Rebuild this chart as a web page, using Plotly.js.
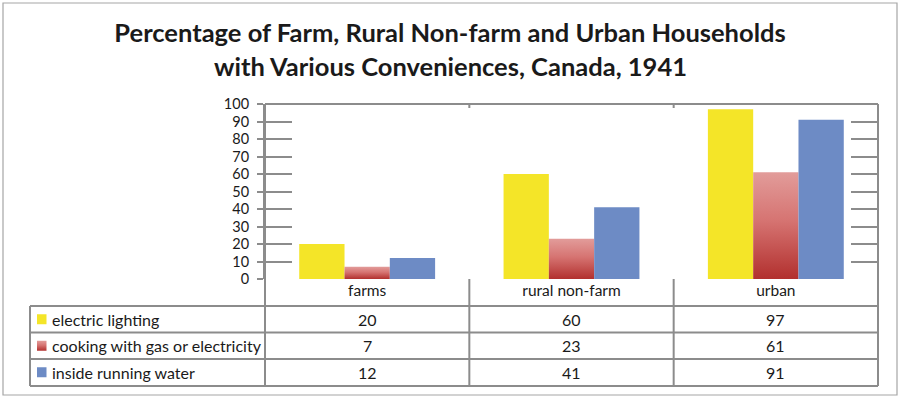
<!DOCTYPE html>
<html><head><meta charset="utf-8">
<script src="https://cdn.plot.ly/plotly-3.0.1.min.js"></script>
<style>html,body{margin:0;padding:0;background:#fff}#chart{width:900px;height:399px}</style>
</head><body><div id="chart"></div>
<script>
const categories = ['farms', 'rural non-farm', 'urban'];
const seriesNames = ['electric lighting', 'cooking with gas or electricity', 'inside running water'];
const electric = [20, 60, 97];
const cooking = [7, 23, 61];
const water = [12, 41, 91];
const yTicks = [0, 10, 20, 30, 40, 50, 60, 70, 80, 90, 100];
const titleLines = ['Percentage of Farm, Rural Non-farm and Urban Households', 'with Various Conveniences, Canada, 1941'];

const W = 900, H = 399;
const M = {l: 265, r: 22, t: 104, b: 120};
const PW = W - M.l - M.r, PH = H - M.t - M.b;
const py = p => (H - M.b - p) / PH;   // pixel y -> paper y
const pxx = p => (p - M.l) / PW;      // pixel x -> paper x

const colors = ['#f4e528', '#cf5a58', '#6d8bc5'];
const font = 'Lato, "Open Sans", sans-serif';
const gray = '#8c8c8c';
const txt = '#1a1a1a';

const series = [electric, cooking, water];
const traces = series.map((v, i) => ({
  type: 'bar', x: categories, y: v, name: seriesNames[i],
  marker: {color: colors[i], line: {width: 0}}, hoverinfo: 'none'
}));
traces.push({type: 'scatter', x: categories, y: electric, yaxis: 'y2', mode: 'none', hoverinfo: 'none', showlegend: false});

const rowTops = [306, 332.5, 359];
const rowH = 26.5;
const tableBottom = 386;
const shapes = [];
const annotations = [];
shapes.push({type: 'rect', xref: 'paper', yref: 'paper', x0: pxx(3), x1: pxx(897), y0: py(3), y1: py(395),
  line: {color: '#a6a6a6', width: 1.2}, fillcolor: 'rgba(0,0,0,0)', layer: 'below'});
shapes.push({type: 'line', xref: 'paper', yref: 'paper', x0: 0, x1: 1, y0: 1, y1: 1, line: {color: gray, width: 2}});
[0, 1].forEach(x => shapes.push({type: 'line', xref: 'paper', yref: 'paper', x0: x, x1: x, y0: 1, y1: py(tableBottom), line: {color: gray, width: 2}}));
[0.5, 1.5].forEach(x => {
  shapes.push({type: 'line', xref: 'x', yref: 'paper', x0: x, x1: x, y0: 0, y1: py(tableBottom), line: {color: gray, width: 2}});
  shapes.push({type: 'line', xref: 'x', yref: 'paper', x0: x, x1: x, y0: 1, y1: py(108), line: {color: gray, width: 2}});
});
rowTops.concat([tableBottom]).forEach(p => shapes.push({type: 'line', xref: 'paper', yref: 'paper', x0: pxx(30), x1: 1, y0: py(p), y1: py(p), line: {color: gray, width: 2}}));
shapes.push({type: 'line', xref: 'paper', yref: 'paper', x0: pxx(30), x1: pxx(30), y0: py(306), y1: py(tableBottom), line: {color: gray, width: 2}});

rowTops.forEach((top, i) => {
  const mid = top + rowH / 2;
  shapes.push({type: 'rect', xref: 'paper', yref: 'paper', x0: pxx(37), x1: pxx(46.5), y0: py(mid - 5), y1: py(mid + 5),
    line: {width: 0}, fillcolor: colors[i]});
  annotations.push({xref: 'paper', yref: 'paper', x: pxx(50), y: py(mid), xanchor: 'left', yanchor: 'middle',
    text: seriesNames[i], showarrow: false, font: {family: font, size: 16, color: txt}});
  categories.forEach((c, j) => annotations.push({xref: 'x', yref: 'paper', x: c, y: py(mid), xanchor: 'center', yanchor: 'middle',
    text: String(series[i][j]), showarrow: false, font: {family: font, size: 16, color: txt}}));
});
annotations.push({xref: 'paper', yref: 'paper', x: pxx(450), y: py(66), xanchor: 'center', yanchor: 'middle',
  text: '<b>' + titleLines[1] + '</b>', showarrow: false, font: {family: font, size: 25.5, color: txt}});

const layout = {
  width: W, height: H, margin: M, paper_bgcolor: '#fff', plot_bgcolor: '#fff',
  showlegend: false, barmode: 'group', bargap: 0.335, bargroupgap: 0,
  title: {text: '<b>' + titleLines[0] + '</b>', font: {family: font, size: 25.5, color: txt},
    x: 0.5, xanchor: 'center', xref: 'container', y: 1 - 33 / H, yref: 'container', yanchor: 'middle'},
  xaxis: {type: 'category', range: [-0.5, 2.5], showgrid: false, zeroline: false, showline: false,
    ticks: '', tickfont: {family: font, size: 15.5, color: txt}, fixedrange: true},
  yaxis: {range: [0, 100], tickvals: yTicks, ticktext: yTicks.map(String), showgrid: false, zeroline: false,
    showline: true, linecolor: gray, linewidth: 2, ticks: 'outside', ticklen: 6, tickwidth: 2, tickcolor: gray,
    ticklabelstandoff: 5, tickfont: {family: font, size: 14.5, color: txt}, fixedrange: true},
  yaxis2: {overlaying: 'y', range: [0, 100], tickvals: yTicks, showticklabels: false, showgrid: false, zeroline: false,
    showline: false, mirror: 'ticks', ticks: 'inside', ticklen: 27, tickwidth: 2, tickcolor: gray, fixedrange: true},
  shapes: shapes, annotations: annotations
};

Plotly.newPlot('chart', traces, layout, {staticPlot: true}).then(() => {
  const svg = document.querySelector('#chart .main-svg');
  const ns = 'http://www.w3.org/2000/svg';
  let defs = svg.querySelector('defs');
  if (!defs) { defs = document.createElementNS(ns, 'defs'); svg.insertBefore(defs, svg.firstChild); }
  const g = document.createElementNS(ns, 'linearGradient');
  g.setAttribute('id', 'redgrad'); g.setAttribute('x1', '0'); g.setAttribute('y1', '0'); g.setAttribute('x2', '0'); g.setAttribute('y2', '1');
  [['0', '#e29c9a'], ['0.45', '#d67472'], ['1', '#b2302e']].forEach(([o, c]) => {
    const s = document.createElementNS(ns, 'stop'); s.setAttribute('offset', o); s.setAttribute('stop-color', c); g.appendChild(s);
  });
  defs.appendChild(g);
  const tr = document.querySelectorAll('#chart .barlayer .trace')[1];
  if (tr) tr.querySelectorAll('path').forEach(p => { p.style.fill = 'url(#redgrad)'; });
  document.querySelectorAll('#chart .layer-above path, #chart .shapelayer path').forEach(p => {
    if ((p.style.fill || '').replace(/\s/g, '') === 'rgb(207,90,88)') p.style.fill = 'url(#redgrad)';
  });
});
</script></body></html>
